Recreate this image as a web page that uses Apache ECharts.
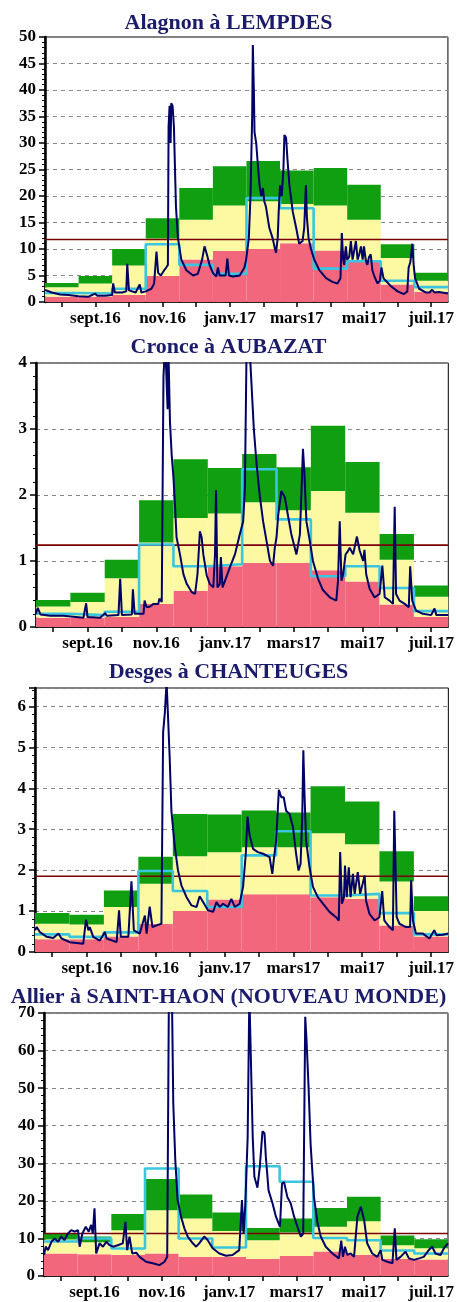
<!DOCTYPE html>
<html>
<head>
<meta charset="utf-8">
<script src="https://cdn.jsdelivr.net/npm/echarts@6/dist/echarts.min.js"></script>
<style>
html,body{margin:0;padding:0;background:#fff;}
#chart{width:457px;height:1302px;}
</style>
</head>
<body>
<div id="chart"></div>
<script>
// ---------- DATA ----------
const MONTHS = ['août.16','sept.16','oct.16','nov.16','déc.16','janv.17','févr.17','mars17','avr.17','mai17','juin17','juil.17'];

// Panel 1 : Alagnon à LEMPDES
const TITLE_1 = 'Alagnon à LEMPDES';
const LOW_1  = [1.0, 1.0, 1.3, 4.9, 8.0, 9.6, 10.0, 11.1, 9.7, 7.9, 3.3, 1.9];
const MID_1  = [2.8, 3.5, 6.9, 12.0, 15.5, 18.2, 19.0, 18.5, 18.2, 15.5, 8.3, 4.0];
const HIGH_1 = [3.6, 4.9, 10.0, 15.8, 21.5, 25.6, 26.6, 24.8, 25.3, 22.1, 10.9, 5.5];
const MEAN_1 = [1.7, 1.6, 2.5, 10.9, 7.0, 5.3, 19.6, 17.7, 6.3, 7.7, 4.0, 2.8];
const MODULE_1 = 11.8;
const DAILY_1 = [[0,2.3],[0.2,1.8],[0.45,1.4],[0.7,1.3],[1.0,1.1],[1.3,1.0],[1.49,1.6],[1.55,1.2],[1.8,1.2],[2.0,1.3],[2.03,3.5],[2.08,1.8],[2.3,1.8],[2.42,2.0],[2.45,7.2],[2.5,2.2],[2.7,1.8],[2.82,3.3],[2.87,1.8],[3.0,2.0],[3.17,2.5],[3.25,3.5],[3.32,9.5],[3.37,5.5],[3.45,5.0],[3.55,6.0],[3.61,6.5],[3.66,7.0],[3.68,33],[3.71,37],[3.74,30],[3.76,37.5],[3.8,37],[3.84,33],[3.9,18],[3.96,12],[4.06,8],[4.21,6],[4.41,5.0],[4.55,5.3],[4.68,8],[4.75,10.5],[4.82,9],[4.9,7],[5.0,5.5],[5.1,4.8],[5.15,6.5],[5.2,5],[5.3,5.0],[5.38,5.0],[5.43,8.2],[5.48,5.0],[5.6,4.8],[5.8,5.0],[5.94,6.5],[5.99,8],[6.07,12],[6.12,20],[6.17,35],[6.19,48.5],[6.22,40],[6.24,32],[6.29,30],[6.35,25],[6.39,22],[6.44,20],[6.49,21.5],[6.53,19],[6.58,18],[6.68,14],[6.78,12],[6.85,10],[6.88,9.3],[6.93,12],[6.96,17],[7.0,22],[7.05,20],[7.1,25],[7.13,31.5],[7.18,31],[7.22,27],[7.28,22],[7.38,17],[7.48,14],[7.57,11],[7.67,11.5],[7.72,14],[7.77,22],[7.8,16],[7.85,12],[7.92,10],[8.02,8],[8.17,6],[8.37,4.5],[8.56,3.8],[8.71,3.5],[8.8,4.5],[8.84,13],[8.88,8],[8.91,7],[8.96,10.5],[9.0,8],[9.06,8.5],[9.11,11.5],[9.16,8],[9.21,8],[9.26,11.5],[9.31,8],[9.36,9],[9.41,10.5],[9.46,8],[9.5,10.5],[9.55,8],[9.6,7],[9.65,8.5],[9.7,9],[9.75,6],[9.8,5],[9.9,3.5],[9.97,4],[10.02,6.5],[10.08,4.5],[10.15,4],[10.3,3],[10.5,2],[10.69,1.5],[10.79,2],[10.83,6.5],[10.88,7.5],[10.94,11],[10.98,7],[11.02,4.5],[11.14,2.5],[11.34,1.8],[11.45,1.8],[11.53,2.3],[11.6,1.8],[11.73,1.9],[12,1.6]];

// Panel 2 : Cronce à AUBAZAT
const TITLE_2 = 'Cronce à AUBAZAT';
const LOW_2  = [0.14, 0.14, 0.15, 0.35, 0.55, 0.92, 0.97, 0.97, 0.86, 0.69, 0.34, 0.15];
const MID_2  = [0.31, 0.38, 0.74, 1.28, 1.65, 1.72, 1.89, 1.77, 2.06, 1.73, 1.02, 0.46];
const HIGH_2 = [0.41, 0.52, 1.02, 1.92, 2.54, 2.41, 2.62, 2.42, 3.05, 2.5, 1.41, 0.63];
const MEAN_2 = [0.2, 0.18, 0.23, 1.25, 0.92, 0.95, 2.39, 1.63, 0.77, 0.92, 0.59, 0.24];
const MODULE_2 = 1.24;
const DAILY_2 = [[0,0.2],[0.05,0.29],[0.13,0.19],[0.42,0.17],[0.8,0.17],[1.38,0.14],[1.43,0.14],[1.46,0.36],[1.5,0.15],[1.87,0.14],[2.01,0.21],[2.06,0.17],[2.4,0.18],[2.45,0.73],[2.5,0.18],[2.79,0.19],[2.82,0.57],[2.87,0.2],[3.13,0.2],[3.16,0.4],[3.22,0.3],[3.32,0.31],[3.42,0.35],[3.56,0.35],[3.59,0.43],[3.66,0.38],[3.71,3.8],[3.76,4.3],[3.8,4.3],[3.83,3.3],[3.85,4.3],[3.9,3.1],[3.95,2.6],[4.0,2.27],[4.05,1.8],[4.09,1.36],[4.19,1.1],[4.29,0.8],[4.39,0.65],[4.53,0.53],[4.63,0.5],[4.7,0.8],[4.77,1.45],[4.82,1.36],[4.87,1.1],[4.97,0.78],[5.06,0.65],[5.16,0.6],[5.21,1.1],[5.24,2.07],[5.28,0.6],[5.35,0.65],[5.38,1.06],[5.43,0.6],[5.5,0.7],[5.64,0.9],[5.79,1.1],[5.93,1.4],[6.03,1.6],[6.08,2.1],[6.13,4.3],[6.21,4.3],[6.27,3.7],[6.34,3.0],[6.42,2.47],[6.51,2.0],[6.61,1.6],[6.71,1.3],[6.81,1.0],[6.9,0.93],[6.95,1.2],[7.0,1.36],[7.05,1.7],[7.14,2.06],[7.24,1.97],[7.34,1.67],[7.43,1.41],[7.58,1.1],[7.68,1.4],[7.73,2.1],[7.77,2.7],[7.81,2.35],[7.87,1.6],[7.97,1.3],[8.06,1.0],[8.21,0.73],[8.35,0.56],[8.55,0.45],[8.74,0.4],[8.79,0.7],[8.84,1.6],[8.89,0.7],[8.94,0.8],[9.01,1.1],[9.08,1.15],[9.13,1.2],[9.23,1.1],[9.34,1.37],[9.42,1.16],[9.52,1.0],[9.56,1.17],[9.61,0.8],[9.71,0.58],[9.85,0.45],[10.0,0.5],[10.08,0.93],[10.15,0.45],[10.29,0.4],[10.39,0.35],[10.44,1.82],[10.48,0.5],[10.58,0.4],[10.73,0.35],[10.85,0.3],[10.89,0.92],[10.95,0.4],[11.06,0.25],[11.26,0.2],[11.5,0.18],[11.6,0.28],[11.65,0.18],[12,0.18]];

// Panel 3 : Desges à CHANTEUGES
const TITLE_3 = 'Desges à CHANTEUGES';
const LOW_3  = [0.31, 0.31, 0.38, 0.69, 1.0, 1.28, 1.41, 1.41, 1.34, 1.3, 0.65, 0.38];
const MID_3  = [0.69, 0.67, 1.1, 1.67, 2.34, 2.44, 2.56, 2.56, 2.9, 2.63, 1.72, 1.0];
const HIGH_3 = [0.95, 0.91, 1.5, 2.33, 3.37, 3.36, 3.46, 3.41, 4.05, 3.68, 2.46, 1.36];
const MEAN_3 = [0.43, 0.37, 0.48, 1.98, 1.49, 1.1, 2.36, 2.95, 1.38, 1.42, 0.95, 0.43];
const MODULE_3 = 1.85;
const DAILY_3 = [[0,0.53],[0.05,0.61],[0.14,0.49],[0.34,0.37],[0.53,0.34],[0.68,0.45],[0.77,0.33],[1.01,0.24],[1.4,0.2],[1.48,0.79],[1.55,0.53],[1.59,0.61],[1.69,0.37],[1.88,0.28],[2.03,0.49],[2.08,0.33],[2.37,0.24],[2.44,1.02],[2.49,0.37],[2.71,0.37],[2.8,1.73],[2.87,0.53],[3.04,0.45],[3.19,0.89],[3.24,0.45],[3.33,1.11],[3.41,0.61],[3.53,0.65],[3.67,0.69],[3.72,5.37],[3.77,5.85],[3.82,6.6],[3.85,6.0],[3.91,4.75],[3.96,3.45],[4.06,2.56],[4.15,2.0],[4.25,1.63],[4.4,1.34],[4.54,1.14],[4.69,1.1],[4.78,1.36],[4.88,1.22],[5.02,1.02],[5.17,0.98],[5.27,1.22],[5.36,1.1],[5.46,1.18],[5.6,1.1],[5.7,1.3],[5.8,1.1],[5.94,1.18],[6.04,1.59],[6.12,2.4],[6.17,3.31],[6.23,2.85],[6.33,2.52],[6.47,2.44],[6.62,2.4],[6.81,2.32],[6.89,1.91],[6.93,2.24],[7.0,2.72],[7.08,3.96],[7.15,3.78],[7.22,3.78],[7.29,3.45],[7.39,3.37],[7.49,3.05],[7.58,2.4],[7.65,1.99],[7.71,2.15],[7.76,3.37],[7.79,4.93],[7.83,3.7],[7.87,2.72],[7.97,2.07],[8.07,1.59],[8.21,1.34],[8.36,1.18],[8.55,0.98],[8.74,0.85],[8.82,0.77],[8.86,2.44],[8.91,1.18],[8.97,1.34],[9.0,2.11],[9.05,1.34],[9.11,2.07],[9.16,1.34],[9.23,1.91],[9.28,1.42],[9.37,1.95],[9.44,1.42],[9.57,1.87],[9.61,1.26],[9.71,0.93],[9.86,0.77],[10.0,0.85],[10.08,1.49],[10.14,0.77],[10.29,0.61],[10.39,0.53],[10.43,3.45],[10.5,0.85],[10.58,0.69],[10.77,0.61],[10.89,0.61],[10.92,1.75],[10.97,0.77],[11.06,0.45],[11.26,0.45],[11.45,0.33],[11.59,0.53],[11.66,0.41],[11.84,0.42],[12,0.45]];

// Panel 4 : Allier à SAINT-HAON (NOUVEAU MONDE)
const TITLE_4 = 'Allier à SAINT-HAON (NOUVEAU MONDE)';
const LOW_4  = [6.0, 5.8, 5.6, 6.0, 5.1, 5.1, 4.5, 5.3, 6.5, 5.6, 4.6, 4.4];
const MID_4  = [9.7, 9.0, 12.2, 17.5, 15.3, 12.0, 9.5, 11.6, 13.1, 14.6, 8.2, 7.4];
const HIGH_4 = [11.3, 10.5, 16.5, 25.8, 21.7, 16.9, 12.8, 15.3, 18.1, 21.1, 10.8, 9.8];
const MEAN_4 = [9.2, 10.0, 7.3, 28.6, 10.0, 7.6, 29.2, 25.1, 10.1, 9.5, 6.8, 6.0];
const MODULE_4 = 11.3;
const DAILY_4 = [[0,5.6],[0.05,7.8],[0.12,6.9],[0.22,9.1],[0.32,10.0],[0.42,9.1],[0.51,10.5],[0.61,9.6],[0.71,11.3],[0.81,12.2],[0.91,11.8],[1.01,12.2],[1.06,7.8],[1.14,11.3],[1.24,13.1],[1.33,11.8],[1.4,13.6],[1.45,11.3],[1.5,18.0],[1.55,6.0],[1.65,8.7],[1.75,7.8],[1.85,9.1],[1.95,8.2],[2.05,7.8],[2.19,8.2],[2.34,8.7],[2.42,14.4],[2.47,6.9],[2.54,10.5],[2.62,6.0],[2.74,6.2],[2.84,5.1],[3.03,3.8],[3.23,3.4],[3.43,2.9],[3.58,3.8],[3.66,5.1],[3.71,75],[3.75,75],[3.8,75],[3.84,46],[3.9,30.8],[3.97,20.2],[4.07,15.8],[4.17,12.7],[4.27,10.5],[4.42,8.7],[4.52,7.8],[4.61,8.7],[4.76,10.5],[4.86,9.6],[5.01,7.4],[5.21,6.0],[5.41,5.4],[5.6,5.6],[5.8,6.9],[5.88,20.2],[5.93,11.3],[5.98,19.3],[6.05,37],[6.1,75],[6.15,75],[6.2,37],[6.25,26.4],[6.34,23.5],[6.41,29],[6.49,38.5],[6.55,38],[6.59,31.7],[6.67,22.8],[6.79,19.3],[6.89,15.8],[7.01,13.1],[7.07,24.6],[7.13,25],[7.23,21],[7.33,19.3],[7.43,15.8],[7.53,13.1],[7.63,10.5],[7.7,11.3],[7.76,69],[7.8,62.5],[7.86,50],[7.92,35],[8.02,21],[8.12,14.4],[8.22,10.5],[8.37,7.8],[8.57,6.0],[8.76,4.7],[8.83,9.4],[8.88,5.1],[8.94,7.8],[9.01,5.6],[9.11,6.0],[9.21,5.1],[9.31,15.8],[9.41,18.4],[9.51,14.9],[9.6,8.7],[9.75,6.0],[9.9,5.1],[10.0,6.9],[10.05,4.3],[10.2,3.8],[10.35,3.4],[10.42,12.7],[10.47,4.3],[10.59,5.1],[10.74,6.5],[10.84,4.7],[10.99,4.3],[11.14,4.7],[11.28,5.1],[11.43,6.9],[11.53,7.8],[11.63,6.0],[11.78,5.6],[11.88,7.4],[12.0,8.7]];

// ---------- CHART ----------
const PANELS = [
  {title: TITLE_1, low: LOW_1, mid: MID_1, high: HIGH_1, mean: MEAN_1, module: MODULE_1, daily: DAILY_1},
  {title: TITLE_2, low: LOW_2, mid: MID_2, high: HIGH_2, mean: MEAN_2, module: MODULE_2, daily: DAILY_2},
  {title: TITLE_3, low: LOW_3, mid: MID_3, high: HIGH_3, mean: MEAN_3, module: MODULE_3, daily: DAILY_3},
  {title: TITLE_4, low: LOW_4, mid: MID_4, high: HIGH_4, mean: MEAN_4, module: MODULE_4, daily: DAILY_4}
];
const LAYOUT = [
  {titleTop: 7,   left: 45, top: 37,   height: 265, max: 50,   interval: 5},
  {titleTop: 331, left: 36, top: 363,  height: 264, max: 4,    interval: 1},
  {titleTop: 656, left: 35, top: 688,  height: 264, max: 6.45, interval: 1},
  {titleTop: 981, left: 44, top: 1013, height: 263, max: 70,   interval: 10}
];
const FONT = 'Liberation Serif';
const C_LOW = '#f3677c', C_MID = '#fcf9a2', C_HIGH = '#109f10';
const C_MEAN = '#3ac6de', C_DAILY = '#000066', C_MODULE = '#7a0000';

const option = {animation: false, backgroundColor: '#fff', title: [], grid: [], xAxis: [], yAxis: [], series: []};

PANELS.forEach((p, i) => {
  const L = LAYOUT[i];
  option.title.push({
    text: p.title, left: 'center', top: L.titleTop,
    textStyle: {fontFamily: FONT, fontWeight: 'bold', fontSize: 22, color: '#1b1b6b'}
  });
  option.grid.push({
    left: L.left, right: 8, top: L.top, height: L.height,
    show: true, borderColor: '#000', borderWidth: 1, backgroundColor: '#fff'
  });
  option.xAxis.push({
    type: 'category', gridIndex: i, data: MONTHS, boundaryGap: true,
    axisLine: {show: true, lineStyle: {color: '#000', width: 1.5}},
    axisTick: {show: true, alignWithLabel: true, interval: 0, length: 5, lineStyle: {color: '#000', width: 1.5}},
    axisLabel: {interval: (idx) => idx % 2 === 1, margin: 8, fontFamily: FONT, fontWeight: 'bold', fontSize: 17, color: '#000'},
    splitLine: {show: false}
  });
  option.xAxis.push({type: 'value', gridIndex: i, min: 0, max: 12, show: false});
  option.yAxis.push({
    type: 'value', gridIndex: i, min: 0, max: L.max, interval: L.interval,
    axisLine: {show: true, lineStyle: {color: '#000', width: 2.5}},
    axisTick: {show: true, length: 6, lineStyle: {color: '#000', width: 1.5}},
    minorTick: {show: true, splitNumber: 5, length: 3, lineStyle: {color: '#000', width: 1}},
    axisLabel: {margin: 9, showMaxLabel: L.max % L.interval === 0, fontFamily: FONT, fontWeight: 'bold', fontSize: 17, color: '#000'},
    splitLine: {show: true, lineStyle: {color: '#888', width: 1, type: [4, 4]}}
  });
  const xc = 2 * i, xv = 2 * i + 1;
  const bands = [
    {data: p.low, color: C_LOW},
    {data: p.mid.map((v, k) => +(v - p.low[k]).toFixed(3)), color: C_MID},
    {data: p.high.map((v, k) => +(v - p.mid[k]).toFixed(3)), color: C_HIGH}
  ];
  bands.forEach(b => option.series.push({
    type: 'bar', xAxisIndex: xc, yAxisIndex: i, stack: 'q' + i, data: b.data,
    barWidth: '100%', barCategoryGap: '0%', itemStyle: {color: b.color}, silent: true, z: 2
  }));
  option.series.push({
    type: 'line', xAxisIndex: xv, yAxisIndex: i, data: [[0, p.module], [12, p.module]],
    symbol: 'none', lineStyle: {color: C_MODULE, width: 1.6}, silent: true, z: 3
  });
  option.series.push({
    type: 'line', xAxisIndex: xv, yAxisIndex: i, step: 'end',
    data: p.mean.map((v, k) => [k, v]).concat([[12, p.mean[11]]]),
    symbol: 'none', lineStyle: {color: C_MEAN, width: 2.6}, silent: true, z: 4
  });
  option.series.push({
    type: 'line', xAxisIndex: xv, yAxisIndex: i, data: p.daily, clip: true,
    symbol: 'none', lineStyle: {color: C_DAILY, width: 2}, silent: true, z: 5
  });
});

const chart = echarts.init(document.getElementById('chart'), null, {renderer: 'canvas'});
chart.setOption(option);
</script>
</body>
</html>
